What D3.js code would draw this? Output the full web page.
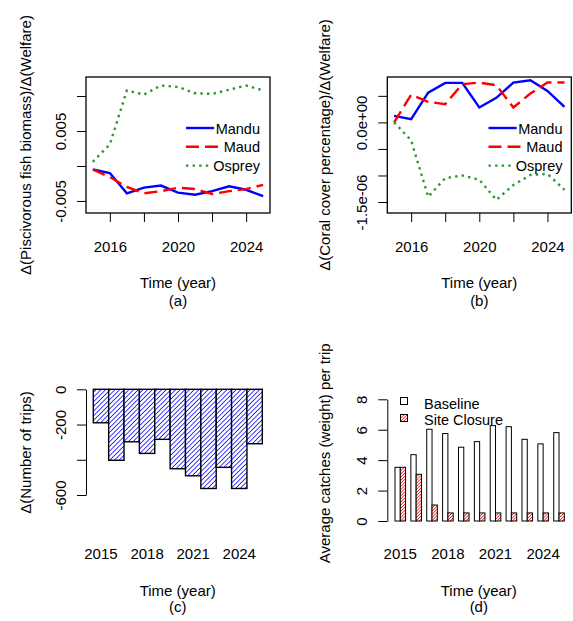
<!DOCTYPE html>
<html><head><meta charset="utf-8">
<script src="https://cdn.jsdelivr.net/npm/d3@7"></script>
<style>
body{margin:0;background:#fff}
svg{display:block}
text{font-family:"Liberation Sans",Arial,Helvetica,sans-serif;fill:#000}
</style>
</head><body>
<svg id="chart" width="573" height="621"></svg>
<script>
// ---------- data ----------
const years = [2015, 2016, 2017, 2018, 2019, 2020, 2021, 2022, 2023, 2024, 2025];
const seriesNames = ["Mandu", "Maud", "Osprey"];

// (a) Δ(Piscivorous fish biomass)/Δ(Welfare)
const fishMandu  = [-0.0005, -0.0010, -0.0039, -0.0031, -0.0028, -0.0038, -0.0041, -0.0036, -0.0029, -0.0034, -0.0043];
const fishMaud   = [-0.0005, -0.0016, -0.0030, -0.0039, -0.0036, -0.0031, -0.0033, -0.0040, -0.0036, -0.0033, -0.0027];
const fishOsprey = [0.0006, 0.0031, 0.0108, 0.0102, 0.0115, 0.0113, 0.0104, 0.0103, 0.0109, 0.0115, 0.0108];

// (b) Δ(Coral cover percentage)/Δ(Welfare)
const coralMandu  = [1.24e-7, 0.62e-7, 5.6e-7, 7.45e-7, 7.45e-7, 2.81e-7, 4.62e-7, 7.5e-7, 7.94e-7, 5.93e-7, 2.93e-7];
const coralMaud   = [0.0, 5.2e-7, 3.87e-7, 3.43e-7, 7.2e-7, 7.5e-7, 7.0e-7, 2.81e-7, 5.44e-7, 7.5e-7, 7.5e-7];
const coralOsprey = [0.0, -3.4e-7, -1.40e-6, -1.05e-6, -1.0e-6, -1.08e-6, -1.46e-6, -1.18e-6, -0.99e-6, -0.97e-6, -1.27e-6];

// (c) Δ(Number of trips)
const tripsDelta = [-190, -403, -298, -364, -284, -451, -491, -563, -443, -563, -309];

// (d) Average catches (weight) per trip
const catchBaseline = [3.53, 4.36, 6.03, 5.75, 4.85, 5.22, 6.27, 6.20, 5.37, 5.07, 5.81];
const catchClosure  = [3.53, 3.07, 1.05, 0.53, 0.53, 0.53, 0.53, 0.53, 0.53, 0.53, 0.53];
const catchGroups = ["Baseline", "Site Closure"];

// tick labels
const lineXTicks = [2016, 2018, 2020, 2022, 2024];
const lineXLabels = [2016, 2020, 2024];
const fishYTicks = [-0.005, 0, 0.005, 0.010];
const fishYLabels = {"-0.005": "-0.005", "0.005": "0.005"};
const coralYTicks = [-1.5e-6, -1.0e-6, -0.5e-6, 0, 0.5e-6];
const coralYLabels = {"0": "0.0e+00", "-0.0000015": "-1.5e-06"};
const tripsYTicks = [0, -200, -400, -600];
const tripsYLabels = {"0": "0", "-200": "-200", "-600": "-600"};
const catchYTicks = [0, 2, 4, 6, 8];
const barXLabels = [2015, 2018, 2021, 2024];

// ---------- drawing ----------
const svg = d3.select("#chart");
const FS = 15;
const colors = {Mandu: "#0000ff", Maud: "#ff0000", Osprey: "#2e962e"};
const dashes = {Mandu: null, Maud: "13,6", Osprey: "2.4,4.2"};

const defs = svg.append("defs");
function hatch(id, color, spacing, width) {
  const p = defs.append("pattern").attr("id", id)
    .attr("patternUnits", "userSpaceOnUse")
    .attr("width", spacing).attr("height", spacing)
    .attr("patternTransform", "rotate(45)");
  p.append("rect").attr("width", spacing).attr("height", spacing).attr("fill", "#fff");
  p.append("line").attr("x1", 0).attr("y1", 0).attr("x2", 0).attr("y2", spacing)
    .attr("stroke", color).attr("stroke-width", width);
}
hatch("hatchBlue", "#0000ff", 3.3, 1.5);
hatch("hatchRed", "#ff0000", 2.2, 1.4);

function yTitle(txt, x, y) {
  svg.append("text").attr("transform", `translate(${x},${y}) rotate(-90)`)
    .attr("text-anchor", "middle").attr("font-size", FS).text(txt);
}
function xTitles(cx, y1, y2, sub) {
  svg.append("text").attr("x", cx).attr("y", y1).attr("text-anchor", "middle").attr("font-size", FS).text("Time (year)");
  svg.append("text").attr("x", cx).attr("y", y2).attr("text-anchor", "middle").attr("font-size", FS).text(sub);
}
function styleAxis(g) {
  g.selectAll("line").attr("stroke", "#000").attr("stroke-width", 1);
  g.selectAll("path.domain").attr("stroke", "#000").attr("stroke-width", 1);
}
function rotatedYLabels(g, labels, offset) {
  g.selectAll(".tick").each(function(d) {
    const key = String(d);
    if (labels[key] !== undefined) {
      d3.select(this).append("text")
        .attr("transform", `translate(${-offset},0) rotate(-90)`)
        .attr("text-anchor", "middle").attr("font-size", FS)
        .text(labels[key]);
    }
  });
}

function linePanel(cfg) {
  const {x0, x1, y0, y1, yDomain, yTicks, yLabels, data, title, titleX, legRight, sub} = cfg;
  const x = d3.scaleLinear().domain([2014.6, 2025.4]).range([x0, x1]);
  const y = d3.scaleLinear().domain(yDomain).range([y1, y0]);

  const gx = svg.append("g").attr("transform", `translate(0,${y1})`)
    .call(d3.axisBottom(x).tickValues(lineXTicks).tickSize(9).tickPadding(19)
      .tickFormat(d => lineXLabels.includes(d) ? String(d) : ""));
  gx.select(".domain").remove();
  gx.selectAll("text").attr("font-size", FS).attr("font-family", null);
  styleAxis(gx);

  const gy = svg.append("g").attr("transform", `translate(${x0},0)`)
    .call(d3.axisLeft(y).tickValues(yTicks).tickSize(9).tickFormat(""));
  gy.select(".domain").remove();
  styleAxis(gy);
  rotatedYLabels(gy, yLabels, 20.5);

  const line = d3.line().x((d, i) => x(years[i])).y(d => y(d));
  seriesNames.forEach(name => {
    svg.append("path").datum(data[name]).attr("d", line)
      .attr("fill", "none").attr("stroke", colors[name]).attr("stroke-width", 2.4)
      .attr("stroke-dasharray", dashes[name]);
  });

  svg.append("rect").attr("x", x0).attr("y", y0).attr("width", x1 - x0).attr("height", y1 - y0)
    .attr("fill", "none").attr("stroke", "#000").attr("stroke-width", 1.3);

  // legend
  const legLineStart = legRight - 74;
  const legY = [128, 146.8, 165.6];
  seriesNames.forEach((name, i) => {
    const t = svg.append("text").attr("x", legRight).attr("y", legY[i] + 5.6)
      .attr("text-anchor", "end").attr("font-size", 14.5).text(name);
    const w = t.node().getComputedTextLength();
    svg.append("line").attr("x1", legLineStart).attr("x2", legRight - w - 1.5)
      .attr("y1", legY[i]).attr("y2", legY[i])
      .attr("stroke", colors[name]).attr("stroke-width", 2.4)
      .attr("stroke-dasharray", dashes[name]);
  });

  yTitle(title, titleX, (y0 + y1) / 2);
  xTitles((x0 + x1) / 2, 287.5, 306, sub);
}

linePanel({
  x0: 86, x1: 270, y0: 77, y1: 213,
  yDomain: [-0.00672, 0.01272], yTicks: fishYTicks, yLabels: fishYLabels,
  data: {Mandu: fishMandu, Maud: fishMaud, Osprey: fishOsprey},
  title: "\u0394(Piscivorous fish biomass)/\u0394(Welfare)", titleX: 30.5,
  legRight: 260, sub: "(a)"
});
linePanel({
  x0: 387.3, x1: 571.3, y0: 77, y1: 213,
  yDomain: [-1.707e-6, 0.855e-6], yTicks: coralYTicks, yLabels: coralYLabels,
  data: {Mandu: coralMandu, Maud: coralMaud, Osprey: coralOsprey},
  title: "\u0394(Coral cover percentage)/\u0394(Welfare)", titleX: 330,
  legRight: 562.5, sub: "(b)"
});

// (c) bar chart of Δ trips
{
  const x = d3.scaleBand().domain(years).range([93.3, 262.3]).padding(0);
  const y = d3.scaleLinear().domain([0, -600]).range([389.3, 495]);
  svg.append("g").selectAll("rect").data(tripsDelta).join("rect")
    .attr("x", (d, i) => x(years[i])).attr("width", x.bandwidth())
    .attr("y", y(0)).attr("height", d => y(d) - y(0))
    .attr("fill", "url(#hatchBlue)").attr("stroke", "#000").attr("stroke-width", 1.4);
  const gy = svg.append("g").attr("transform", "translate(86,0)")
    .call(d3.axisLeft(y).tickValues(tripsYTicks).tickSize(9).tickSizeOuter(0).tickFormat(""));
  styleAxis(gy);
  rotatedYLabels(gy, tripsYLabels, 20);
  barXLabels.forEach(yr => {
    svg.append("text").attr("x", x(yr) + x.bandwidth() / 2).attr("y", 559.3)
      .attr("text-anchor", "middle").attr("font-size", FS).text(yr);
  });
  yTitle("\u0394(Number of trips)", 30.5, 452.5);
  xTitles(177.7, 595.5, 611.5, "(c)");
}

// (d) grouped bar chart of catches
{
  const x0 = d3.scaleBand().domain(years).range([389.7, 564.3]).padding(0);
  const bw = x0.bandwidth();
  const x1 = d3.scaleBand().domain(catchGroups).range([bw / 3, bw]).padding(0);
  const y = d3.scaleLinear().domain([0, 8]).range([521, 399.3]);
  const vals = {"Baseline": catchBaseline, "Site Closure": catchClosure};
  const fills = {"Baseline": "#fff", "Site Closure": "url(#hatchRed)"};
  catchGroups.forEach(gname => {
    svg.append("g").selectAll("rect").data(vals[gname]).join("rect")
      .attr("x", (d, i) => x0(years[i]) + x1(gname)).attr("width", x1.bandwidth())
      .attr("y", d => y(d)).attr("height", d => y(0) - y(d))
      .attr("fill", fills[gname]).attr("stroke", "#000").attr("stroke-width", 1);
  });
  const gy = svg.append("g").attr("transform", "translate(387.3,0)")
    .call(d3.axisLeft(y).tickValues(catchYTicks).tickSize(9).tickSizeOuter(0).tickFormat(""));
  styleAxis(gy);
  const lab = {}; catchYTicks.forEach(v => lab[String(v)] = String(v));
  rotatedYLabels(gy, lab, 20.8);
  barXLabels.forEach(yr => {
    svg.append("text").attr("x", x0(yr) + 2 * bw / 3).attr("y", 559.3)
      .attr("text-anchor", "middle").attr("font-size", FS).text(yr);
  });
  // legend
  const legY = [397.5, 414.5];
  const legTextY = [409, 424.5];
  catchGroups.forEach((gname, i) => {
    svg.append("rect").attr("x", 400.5).attr("y", legY[i]).attr("width", 7).attr("height", 7)
      .attr("fill", fills[gname]).attr("stroke", "#000").attr("stroke-width", 1);
    svg.append("text").attr("x", 424).attr("y", legTextY[i]).attr("font-size", 14.5).text(gname);
  });
  yTitle("Average catches (weight) per trip", 330, 453.3);
  xTitles(478.8, 595.5, 611.5, "(d)");
}
</script>
</body></html>
